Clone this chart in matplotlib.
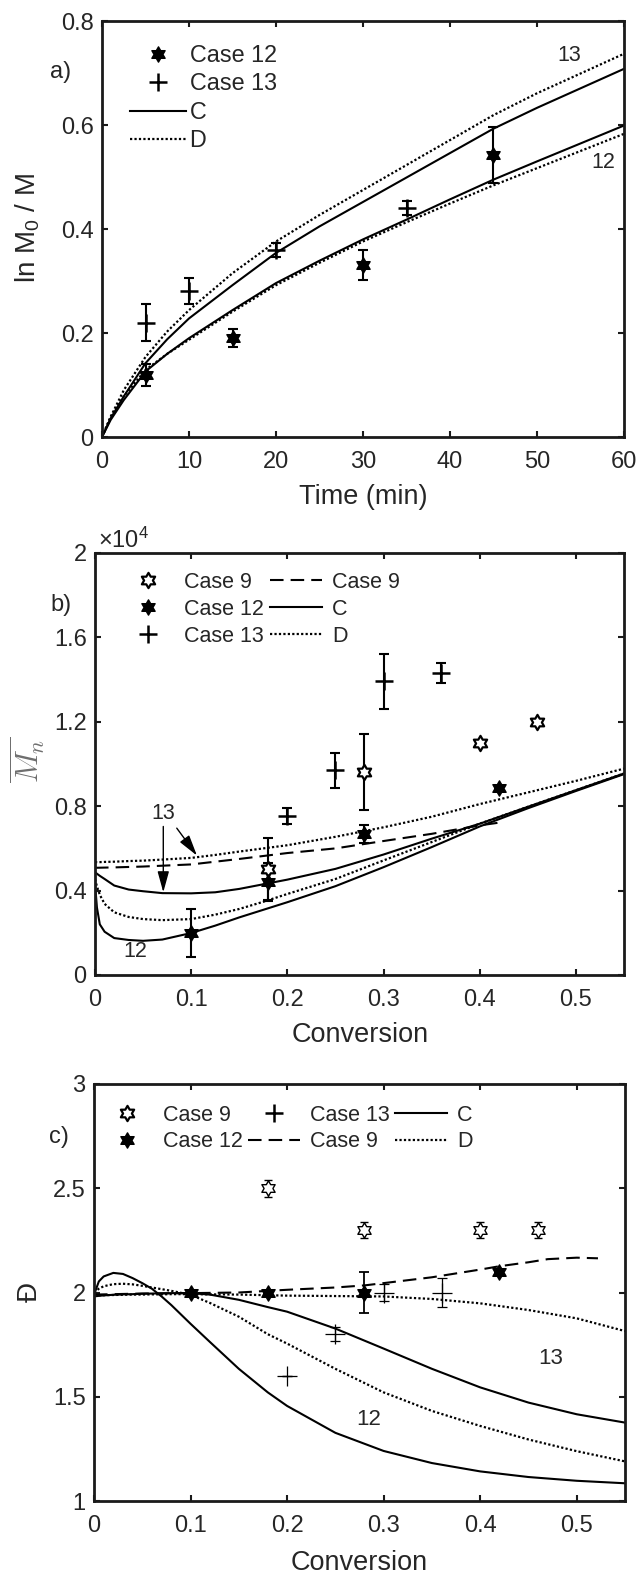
import numpy as np
import matplotlib
matplotlib.use('Agg')
import matplotlib.pyplot as plt
from matplotlib.path import Path
from matplotlib.ticker import FuncFormatter

# ---------------- data ----------------
# a) ln M0/M vs time
a_case12_t = [5, 15, 30, 45]
a_case12_y = [0.120, 0.190, 0.330, 0.542]
a_case12_err = [0.021, 0.017, 0.029, 0.054]
a_case13_t = [5, 10, 20, 35]
a_case13_y = [0.220, 0.280, 0.360, 0.440]
a_case13_err = [0.036, 0.025, 0.013, 0.014]

a_t = [0, 1, 2.5, 5, 7.5, 10, 15, 20, 25, 30, 35, 40, 45, 50, 60]
a_13_D = [0, 0.039, 0.090, 0.154, 0.203, 0.244, 0.315, 0.376, 0.427, 0.475, 0.523,
          0.571, 0.619, 0.661, 0.737]
a_13_C = [0, 0.036, 0.078, 0.142, 0.188, 0.228, 0.292, 0.354, 0.405, 0.452, 0.499,
          0.546, 0.593, 0.633, 0.708]
a_12_C = [0, 0.033, 0.071, 0.126, 0.160, 0.190, 0.244, 0.296, 0.339, 0.380, 0.418,
          0.457, 0.495, 0.530, 0.599]
a_12_D = [0, 0.039, 0.078, 0.129, 0.160, 0.187, 0.241, 0.292, 0.335, 0.376, 0.413,
          0.449, 0.484, 0.517, 0.583]

# b) Mn vs conversion
b_case9_x = [0.18, 0.28, 0.40, 0.46]
b_case9_y = [5030, 9620, 11000, 12000]
b_case9_err = [1460, 1790, 0, 0]
b_case12_x = [0.10, 0.18, 0.28, 0.42]
b_case12_y = [1990, 4400, 6690, 8880]
b_case12_err = [1120, 900, 440, 0]
b_case13_x = [0.20, 0.25, 0.30, 0.36]
b_case13_y = [7520, 9700, 13930, 14310]
b_case13_err = [380, 830, 1300, 480]

b_x = [0, 0.002, 0.005, 0.01, 0.02, 0.035, 0.05, 0.07, 0.1, 0.125, 0.15, 0.175, 0.2,
       0.25, 0.3, 0.35, 0.4, 0.45, 0.5, 0.55]
b_13_D = [5350, 5350, 5350, 5360, 5370, 5400, 5420, 5470, 5550, 5690, 5850, 6000, 6150,
          6550, 7000, 7500, 8100, 8650, 9200, 9780]
b_13_C = [4870, 4800, 4700, 4550, 4240, 4050, 3970, 3880, 3870, 3920, 4080, 4300, 4520,
          5030, 5710, 6460, 7170, 7970, 8760, 9550]
b_12_D = [4540, 4200, 3800, 3370, 2970, 2750, 2650, 2600, 2650, 2860, 3130, 3470, 3840,
          4550, 5430, 6300, 7170, 7970, 8760, 9550]
b_12_C = [4350, 3200, 2400, 2050, 1750, 1660, 1620, 1680, 1990, 2340, 2730, 3090, 3450,
          4210, 5110, 6060, 7040, 7900, 8720, 9520]
b_9_x = [0, 0.02, 0.05, 0.1, 0.15, 0.2, 0.25, 0.3, 0.35, 0.4, 0.42]
b_9_dash = [5080, 5100, 5140, 5240, 5500, 5780, 6000, 6350, 6690, 7090, 7220]

# c) dispersity vs conversion
c_case9_x = [0.18, 0.28, 0.40, 0.46]
c_case9_y = [2.50, 2.30, 2.30, 2.30]
c_case9_err = [0.04, 0.04, 0.04, 0.04]
c_case12_x = [0.10, 0.18, 0.28, 0.42]
c_case12_y = [2.00, 2.00, 2.00, 2.10]
c_case12_err = [0, 0, 0.10, 0]
c_case13_x = [0.20, 0.25, 0.30, 0.36]
c_case13_y = [1.60, 1.80, 2.00, 2.00]
c_case13_err = [0, 0.035, 0.04, 0.07]

c_x = [0, 0.005, 0.01, 0.02, 0.03, 0.04, 0.05, 0.06, 0.07, 0.08, 0.1, 0.12, 0.15,
       0.18, 0.2, 0.25, 0.3, 0.35, 0.4, 0.45, 0.5, 0.55]
c_12_C = [1.989, 2.053, 2.077, 2.094, 2.089, 2.069, 2.045, 2.018, 1.981, 1.94, 1.85,
          1.763, 1.634, 1.521, 1.456, 1.327, 1.24, 1.182, 1.142, 1.115, 1.097, 1.085]
c_12_D = [2.0, 2.018, 2.03, 2.04, 2.042, 2.039, 2.032, 2.024, 2.016, 2.008, 1.989,
          1.95, 1.884, 1.80, 1.755, 1.634, 1.521, 1.432, 1.36, 1.295, 1.239, 1.19]
c_13_C = [1.981, 1.984, 1.986, 1.989, 1.991, 1.992, 1.994, 1.995, 1.996, 1.997, 1.997,
          1.99, 1.965, 1.93, 1.908, 1.827, 1.731, 1.634, 1.545, 1.472, 1.416, 1.376]
c_13_D = [1.985, 1.986, 1.987, 1.988, 1.989, 1.99, 1.99, 1.991, 1.991, 1.992, 1.992,
          1.991, 1.99, 1.987, 1.985, 1.983, 1.981, 1.969, 1.948, 1.916, 1.876, 1.815]
c_9_x = [0, 0.05, 0.1, 0.15, 0.2, 0.25, 0.28, 0.3, 0.35, 0.4, 0.42, 0.45, 0.47, 0.5, 0.522]
c_9_dash = [1.99, 1.995, 1.997, 2.0, 2.013, 2.024, 2.034, 2.045, 2.073, 2.11, 2.126,
            2.145, 2.16, 2.167, 2.164]

# ---------------- style ----------------
plt.rcParams['font.family'] = ['Liberation Sans', 'DejaVu Sans']
plt.rcParams['mathtext.fontset'] = 'custom'
plt.rcParams['mathtext.rm'] = 'Liberation Sans'
plt.rcParams['mathtext.it'] = 'Liberation Sans:italic'
TXT = '#262626'

W, H = 637, 1576
fig = plt.figure(figsize=(W / 100, H / 100), dpi=100)


def fx(px):
    return px / W


def fy(py):
    return 1 - py / H


def box(l, t, r, b):
    return [fx(l), fy(b), (r - l) / W, (b - t) / H]


# hexagram marker like matlab 'h'
ang = np.deg2rad(90 + 30 * np.arange(13))
rad = np.where(np.arange(13) % 2 == 0, 1.0, 0.577)
hexa = Path(np.column_stack([rad * np.cos(ang), rad * np.sin(ang)]), closed=True)

DOT = (0, (1, 1))
DASH = (0, (6.5, 3.4))


def style(ax):
    for s in ax.spines.values():
        s.set_linewidth(2.0)
        s.set_color('#1a1a1a')
    ax.tick_params(direction='in', top=True, right=True, length=4.5, width=1.5,
                   labelsize=17, labelcolor=TXT, color='#1a1a1a')
    ax.tick_params(axis='x', pad=10)
    ax.tick_params(axis='y', pad=6)


fmt = FuncFormatter(lambda v, _: f'{v:g}')

# ---------------- a) ----------------
ax = fig.add_axes(box(102, 21, 624, 437))
style(ax)
ax.errorbar(a_case12_t, a_case12_y, yerr=a_case12_err, fmt='none', ecolor='k',
            elinewidth=1.5, capsize=3.5, capthick=1.5)
ax.errorbar(a_case13_t, a_case13_y, yerr=a_case13_err, fmt='none', ecolor='k',
            elinewidth=1.5, capsize=3.5, capthick=1.5)
h12, = ax.plot(a_case12_t, a_case12_y, ls='none', marker=hexa, ms=11, mfc='k', mec='k')
h13, = ax.plot(a_case13_t, a_case13_y, ls='none', marker='+', ms=13, mew=1.8, color='k')
hC, = ax.plot(a_t, a_13_C, color='k', lw=1.5)
ax.plot(a_t, a_12_C, color='k', lw=1.5)
hD, = ax.plot(a_t, a_13_D, color='k', lw=1.6, ls=DOT)
ax.plot(a_t, a_12_D, color='k', lw=1.6, ls=DOT)
ax.text(53.7, 0.733, '13', fontsize=15.5, color=TXT, ha='center', va='center')
ax.text(57.6, 0.527, '12', fontsize=15.5, color=TXT, ha='center', va='center')
ax.set_xlim(0, 60)
ax.set_ylim(0, 0.8)
ax.set_xticks([0, 10, 20, 30, 40, 50, 60])
ax.set_yticks([0, 0.2, 0.4, 0.6, 0.8])
ax.yaxis.set_major_formatter(fmt)
ax.legend([h12, h13, hC, hD], ['Case 12', 'Case 13', 'C', 'D'], loc='upper left',
          bbox_to_anchor=(fx(130), fy(44)), bbox_transform=fig.transFigure,
          frameon=False, borderpad=0, borderaxespad=0, fontsize=16.8,
          handlelength=2.4, handletextpad=0.15, labelspacing=0.23, labelcolor=TXT)
fig.text(fx(61), fy(72), 'a)', fontsize=17, color=TXT, ha='center', va='center')
fig.text(fx(28), fy(228), 'ln M$_0$ / M', fontsize=20, color=TXT, rotation=90,
         ha='center', va='center')
fig.text(fx(363), fy(497), 'Time (min)', fontsize=19.5, color=TXT, ha='center', va='center')

# ---------------- b) ----------------
ax = fig.add_axes(box(95, 553, 624, 975))
style(ax)
eb = dict(fmt='none', ecolor='k', elinewidth=1.5, capsize=3.5, capthick=1.5)
ax.errorbar(b_case9_x, b_case9_y, yerr=b_case9_err, **eb)
ax.errorbar(b_case12_x, b_case12_y, yerr=b_case12_err, **eb)
ax.errorbar(b_case13_x, b_case13_y, yerr=b_case13_err, **eb)
hC, = ax.plot(b_x, b_13_C, color='k', lw=1.5)
ax.plot(b_x, b_12_C, color='k', lw=1.5)
hD, = ax.plot(b_x, b_13_D, color='k', lw=1.6, ls=DOT)
ax.plot(b_x, b_12_D, color='k', lw=1.6, ls=DOT)
hd9, = ax.plot(b_9_x, b_9_dash, color='k', lw=1.5, ls=DASH)
h9, = ax.plot(b_case9_x, b_case9_y, ls='none', marker=hexa, ms=11, mfc='w', mec='k', mew=1.6)
h12, = ax.plot(b_case12_x, b_case12_y, ls='none', marker=hexa, ms=11, mfc='k', mec='k')
h13, = ax.plot(b_case13_x, b_case13_y, ls='none', marker='+', ms=13, mew=1.8, color='k')
ax.text(0.071, 7640, '13', fontsize=15.5, color=TXT, ha='center', va='center')
ax.text(0.042, 1120, '12', fontsize=15.5, color=TXT, ha='center', va='center')
arr = dict(arrowstyle='-|>,head_length=0.8,head_width=0.22', color='k', lw=1.0,
           mutation_scale=16, shrinkA=0, shrinkB=0)
ax.annotate('', xy=(0.071, 3920), xytext=(0.071, 7040), arrowprops=arr)
ax.annotate('', xy=(0.106, 5660), xytext=(0.085, 6960), arrowprops=arr)
ax.set_xlim(0, 0.55)
ax.set_ylim(0, 20000)
ax.set_xticks([0, 0.1, 0.2, 0.3, 0.4, 0.5])
ax.set_yticks([0, 4000, 8000, 12000, 16000, 20000])
ax.xaxis.set_major_formatter(fmt)
ax.yaxis.set_major_formatter(FuncFormatter(lambda v, _: f'{v / 1e4:g}'))
ax.legend([h9, h12, h13, hd9, hC, hD], ['Case 9', 'Case 12', 'Case 13', 'Case 9', 'C', 'D'],
          ncol=2, loc='upper left', bbox_to_anchor=(fx(122), fy(572)),
          bbox_transform=fig.transFigure, frameon=False, borderpad=0, borderaxespad=0,
          fontsize=15.5, handlelength=2.42, handletextpad=0.47, columnspacing=0.28,
          labelspacing=0.27, labelcolor=TXT)
fig.text(fx(61), fy(605), 'b)', fontsize=17, color=TXT, ha='center', va='center')
fig.text(fx(98), fy(540), '\u00d710$^4$', fontsize=17, color=TXT, ha='left', va='center')
fig.text(fx(27), fy(760), r'$\overline{M_n}$', fontsize=22, color='#6e6e6e', rotation=90,
         ha='center', va='center', math_fontfamily='cm')
fig.text(fx(360), fy(1035), 'Conversion', fontsize=19.5, color=TXT, ha='center', va='center')

# ---------------- c) ----------------
ax = fig.add_axes(box(94, 1084, 625, 1501))
style(ax)
ax.errorbar(c_case9_x, c_case9_y, yerr=c_case9_err, fmt='none', ecolor='k',
            elinewidth=1.0, capsize=3, capthick=1.0)
ax.errorbar(c_case12_x, c_case12_y, yerr=c_case12_err, fmt='none', ecolor='k',
            elinewidth=1.3, capsize=3.5, capthick=1.3)
ax.errorbar(c_case13_x, c_case13_y, yerr=c_case13_err, fmt='none', ecolor='k',
            elinewidth=0.9, capsize=3.5, capthick=0.9)
hC, = ax.plot(c_x, c_13_C, color='k', lw=1.5)
ax.plot(c_x, c_12_C, color='k', lw=1.5)
hD, = ax.plot(c_x, c_13_D, color='k', lw=1.6, ls=DOT)
ax.plot(c_x, c_12_D, color='k', lw=1.6, ls=DOT)
hd9, = ax.plot(c_9_x, c_9_dash, color='k', lw=1.5, ls=DASH)
h9, = ax.plot(c_case9_x, c_case9_y, ls='none', marker=hexa, ms=11, mfc='w', mec='k', mew=1.0)
h12, = ax.plot(c_case12_x, c_case12_y, ls='none', marker=hexa, ms=11, mfc='k', mec='k')
h13, = ax.plot(c_case13_x, c_case13_y, ls='none', marker='+', ms=14, mew=0.9, color='k')
ax.text(0.473, 1.685, '13', fontsize=16, color=TXT, ha='center', va='center')
ax.text(0.285, 1.392, '12', fontsize=16, color=TXT, ha='center', va='center')
ax.set_xlim(0, 0.55)
ax.set_ylim(1, 3)
ax.set_xticks([0, 0.1, 0.2, 0.3, 0.4, 0.5])
ax.set_yticks([1, 1.5, 2, 2.5, 3])
ax.xaxis.set_major_formatter(fmt)
ax.yaxis.set_major_formatter(fmt)
lh9 = plt.Line2D([], [], ls='none', marker=hexa, ms=11, mfc='w', mec='k', mew=1.6)
lh13 = plt.Line2D([], [], ls='none', marker='+', ms=13, mew=1.8, color='k')
ax.legend([lh9, h12, lh13, hd9, hC, hD], ['Case 9', 'Case 12', 'Case 13', 'Case 9', 'C', 'D'],
          ncol=3, loc='upper left', bbox_to_anchor=(fx(101), fy(1105)),
          bbox_transform=fig.transFigure, frameon=False, borderpad=0, borderaxespad=0,
          fontsize=15.5, handlelength=2.42, handletextpad=0.47, columnspacing=0.23,
          labelspacing=0.25, labelcolor=TXT)
fig.text(fx(59), fy(1137), 'c)', fontsize=17, color=TXT, ha='center', va='center')
fig.text(fx(30), fy(1292), '\u0110', fontsize=20, color=TXT, rotation=90,
         ha='center', va='center')
fig.text(fx(359), fy(1563), 'Conversion', fontsize=19.5, color=TXT, ha='center', va='center')

fig.savefig('out.png', dpi=100)
